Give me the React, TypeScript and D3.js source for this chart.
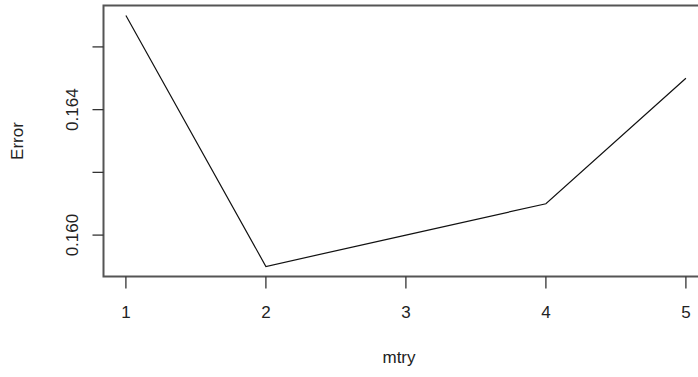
import React from "react";
import * as d3 from "d3";

// Out-of-bag error for each mtry setting
const mtryValues = [1, 2, 3, 4, 5];
const errorValues = [0.167, 0.159, 0.16, 0.161, 0.165];
const xTickValues = [1, 2, 3, 4, 5];
const yTickValues = [0.16, 0.162, 0.164, 0.166];
const yTickLabels = ["0.160", "", "0.164", ""];

const W = 698;
const H = 377;
const plotLeft = 103.5;
const plotTop = 5.5;
const plotBottom = 276.5;

// base-graphics style 4% range padding
function padded(lo: number, hi: number): [number, number] {
  const r = hi - lo;
  return [lo - 0.04 * r, hi + 0.04 * r];
}

export default function App() {
  const xr = padded(d3.min(mtryValues)!, d3.max(mtryValues)!);
  const yr = padded(d3.min(errorValues)!, d3.max(errorValues)!);
  const unit = 140;
  const plotRight = plotLeft + (xr[1] - xr[0]) * unit;

  const x = d3.scaleLinear().domain(xr).range([plotLeft, plotRight]);
  const y = d3.scaleLinear().domain(yr).range([plotBottom, plotTop]);

  const line = d3
    .line<number>()
    .x((_, i) => x(mtryValues[i]))
    .y((d) => y(d));

  const font = "'Liberation Sans', Arial, sans-serif";
  const fs = 17;

  return (
    <svg
      width={W}
      height={H}
      style={{ position: "absolute", left: 0, top: 0, background: "#fff" }}
      fontFamily={font}
    >
      <rect x={0} y={0} width={W} height={H} fill="#fff" />
      <path d={line(errorValues) ?? ""} fill="none" stroke="#111" strokeWidth={1.2} />
      {/* plot frame */}
      <rect
        x={plotLeft}
        y={plotTop}
        width={plotRight - plotLeft}
        height={plotBottom - plotTop}
        fill="none"
        stroke="#555"
        strokeWidth={2}
      />
      {/* x axis ticks */}
      {xTickValues.map((t) => (
        <g key={`x${t}`}>
          <line x1={x(t)} x2={x(t)} y1={plotBottom} y2={plotBottom + 12} stroke="#333" strokeWidth={1.3} />
          <text x={x(t)} y={318} textAnchor="middle" fontSize={fs} fill="#222">
            {t}
          </text>
        </g>
      ))}
      {/* y axis ticks */}
      {yTickValues.map((t, i) => (
        <g key={`y${t}`}>
          <line x1={plotLeft - 11} x2={plotLeft} y1={y(t)} y2={y(t)} stroke="#333" strokeWidth={1.3} />
          {yTickLabels[i] && (
            <text
              transform={`translate(78, ${y(t)}) rotate(-90)`}
              textAnchor="middle"
              fontSize={fs}
              fill="#222"
            >
              {yTickLabels[i]}
            </text>
          )}
        </g>
      ))}
      <text x={399} y={363} textAnchor="middle" fontSize={fs} fill="#222">
        mtry
      </text>
      <text transform={`translate(23, 141) rotate(-90)`} textAnchor="middle" fontSize={fs} fill="#222">
        Error
      </text>
    </svg>
  );
}
